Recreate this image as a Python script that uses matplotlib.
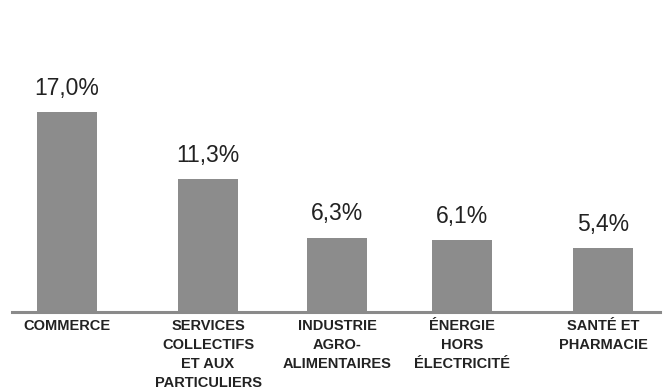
import matplotlib
matplotlib.use("Agg")
import matplotlib.pyplot as plt

# data
categories = ["COMMERCE", "SERVICES\nCOLLECTIFS\nET AUX\nPARTICULIERS",
              "INDUSTRIE\nAGRO-\nALIMENTAIRES", "ÉNERGIE\nHORS\nÉLECTRICITÉ",
              "SANTÉ ET\nPHARMACIE"]
values = [17.0, 11.3, 6.3, 6.1, 5.4]
labels = ["17,0%", "11,3%", "6,3%", "6,1%", "5,4%"]

# layout (pixel-like x coordinates)
xpos = [67, 208, 337, 462, 603]

plt.rcParams['font.family'] = ['Liberation Sans', 'DejaVu Sans']

fig = plt.figure(figsize=(6.68, 3.89), dpi=100)
ax = fig.add_axes([0, 77/389, 1, 312/389])
ax.bar(xpos, values, width=60, color="#8c8c8c", edgecolor="none", zorder=2)
ax.set_xlim(0, 668)
ax.set_ylim(0, 17.0 * 312 / 200)

ax.plot([12, 660], [0, 0], color="#8a8a8a", lw=2.2, clip_on=False, zorder=3)

for x, v, lab in zip(xpos, values, labels):
    ax.annotate(lab, (x, v), xytext=(0, 9), textcoords="offset points",
                ha="center", va="bottom", fontsize=16.5, color="#222222")

for x, cat in zip(xpos, categories):
    ax.annotate(cat, (x, 0), xytext=(0, -5), textcoords="offset points",
                ha="center", va="top", fontsize=10.5, fontweight="bold",
                color="#222222", linespacing=1.45, annotation_clip=False)

ax.axis("off")
fig.savefig("out.png", dpi=100)
